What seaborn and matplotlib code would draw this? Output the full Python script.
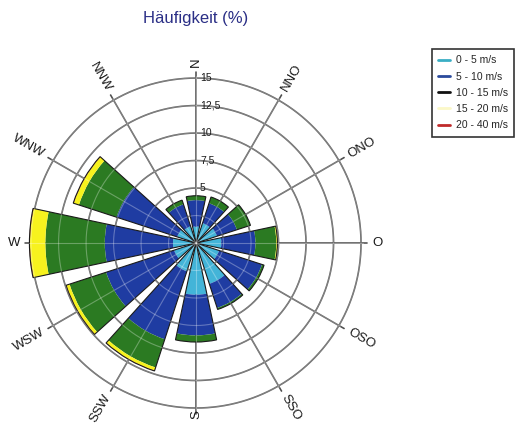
import numpy as np
import pandas as pd
import matplotlib
matplotlib.use("Agg")
import matplotlib.pyplot as plt
import matplotlib.transforms as mtransforms
from matplotlib.lines import Line2D
import seaborn as sns

# Wind directions (German compass points), clockwise from north
directions = ["N", "NNO", "ONO", "O", "OSO", "SSO", "S", "SSW", "WSW", "W", "WNW", "NNW"]
direction_deg = [0, 30, 60, 90, 120, 150, 180, 210, 240, 270, 300, 330]

# Frequency (%) per speed class and direction
speed_classes = ["0 - 5 m/s", "5 - 10 m/s", "10 - 15 m/s", "15 - 20 m/s", "20 - 40 m/s"]
freq_0_5 = [1.5, 1.9, 2.0, 2.3, 2.2, 3.9, 4.7, 2.7, 2.1, 2.1, 1.8, 1.6]
freq_5_10 = [2.4, 1.9, 1.9, 3.1, 4.1, 2.3, 3.7, 6.5, 6.5, 6.2, 5.8, 2.1]
freq_10_15 = [0.4, 0.6, 1.3, 1.9, 0.2, 0.15, 0.6, 2.7, 3.5, 5.4, 3.6, 0.4]
freq_15_20 = [0.0, 0.0, 0.0, 0.1, 0.0, 0.0, 0.0, 0.3, 0.3, 1.4, 0.5, 0.0]
freq_20_40 = [0.0, 0.0, 0.0, 0.0, 0.0, 0.0, 0.0, 0.03, 0.03, 0.05, 0.04, 0.0]

ring_values = [5, 7.5, 10, 12.5, 15]
ring_labels = ["5", "7,5", "10", "12,5", "15"]

fill_colors = ["#43b4d8", "#1f3ca2", "#2b7a22", "#f7f21e", "#c62020"]
legend_colors = ["#3aaec4", "#2a4a9c", "#111111", "#fbf8c8", "#c02a2a"]

df = pd.DataFrame({
    "direction": directions,
    "deg": direction_deg,
    speed_classes[0]: freq_0_5,
    speed_classes[1]: freq_5_10,
    speed_classes[2]: freq_10_15,
    speed_classes[3]: freq_15_20,
    speed_classes[4]: freq_20_40,
})

sns.set_theme(style="white")
plt.rcParams["font.family"] = ["Liberation Sans", "DejaVu Sans"]

fig = plt.figure(figsize=(5.21, 4.30), dpi=100)
rmax = 15.6
ax = fig.add_axes([0.0469, 0.0358, 0.6588, 0.798], projection="polar")
ax.set_theta_zero_location("N")
ax.set_theta_direction(-1)
ax.set_ylim(0, rmax)
ax.grid(False)
ax.set_xticks([])
ax.set_yticks([])
ax.spines["polar"].set_visible(False)
ax.patch.set_alpha(0)

theta = np.deg2rad(df["deg"].to_numpy())
width = np.deg2rad(24)

# grid: rings and spokes below the bars
circ = np.linspace(0, 2 * np.pi, 361)
grid_rings = [2.5] + ring_values
for r in grid_rings:
    ax.plot(circ, np.full_like(circ, r), color="#4d4d4d", lw=1.15, zorder=1)
for t in theta:
    ax.plot([t, t], [0, rmax], color="#4d4d4d", lw=1.15, zorder=1)

# stacked sectors
bottom = np.zeros(len(df))
for col, color in zip(speed_classes, fill_colors):
    vals = df[col].to_numpy()
    ax.bar(theta, vals, width=width, bottom=bottom, color=color,
           edgecolor="none", align="center", zorder=2)
    bottom += vals
ax.bar(theta, bottom, width=width, fill=False, edgecolor="#1a1a1a",
       lw=0.8, align="center", zorder=3)

# faint grid showing through the sectors
for r in grid_rings:
    ax.plot(circ, np.full_like(circ, r), color="white", alpha=0.3, lw=0.8, zorder=4)
for t in theta:
    ax.plot([t, t], [0, bottom.max()], color="white", alpha=0.3, lw=0.8, zorder=4)

# direction labels, rotated along their spokes
for name, deg in zip(df["direction"], df["deg"]):
    rot = 90 - deg
    while rot <= -90:
        rot += 180
    while rot > 90:
        rot -= 180
    ha = "left" if 0 <= deg <= 180 else "right"
    ax.text(np.deg2rad(deg), 16.0, name, rotation=rot, rotation_mode="anchor",
            ha=ha, va="center", fontsize=9.5, color="#1a1a1a", zorder=5)

# ring labels beside the north spoke
trans = mtransforms.offset_copy(ax.transData, fig=fig, x=4, y=0, units="dots")
for r, lab in zip(ring_values, ring_labels):
    ax.text(0, r, lab, transform=trans, ha="left", va="center",
            fontsize=7.5, color="#1a1a1a", zorder=5)

fig.text(196 / 521, 1 - 18 / 430, "Häufigkeit (%)", ha="center", va="center",
         color="#2b2f86", fontsize=12)

handles = [Line2D([0], [0], color=c, lw=2) for c in legend_colors]
leg = fig.legend(handles, speed_classes, loc="upper left",
                 bbox_to_anchor=(0.829, 0.886), fontsize=7.5, frameon=True,
                 fancybox=False, edgecolor="black", handlelength=1.1,
                 labelspacing=0.6, borderpad=0.6, handletextpad=0.6,
                 borderaxespad=0)
leg.get_frame().set_linewidth(1.2)
leg.get_frame().set_facecolor("white")

fig.savefig("out.png", dpi=100)
